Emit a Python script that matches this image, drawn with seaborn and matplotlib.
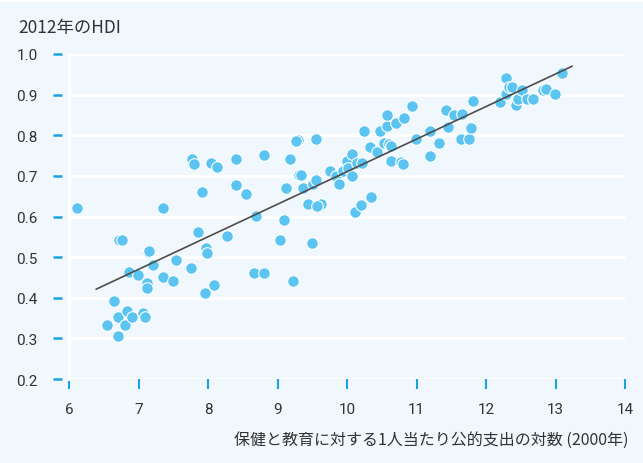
import numpy as np
import pandas as pd
import seaborn as sns
import matplotlib
matplotlib.use('Agg')
import matplotlib.pyplot as plt
import matplotlib.transforms as mtransforms

# log public spending per capita on health & education (2000) vs HDI 2012
spend_log = [6.12, 6.65, 6.70, 6.55, 6.71, 6.80, 6.83, 6.90, 6.72, 6.76,
             6.86, 6.99, 7.07, 7.10, 7.12, 7.12, 7.14, 7.15, 7.21, 7.35,
             7.35, 7.49, 7.54, 7.76, 7.85, 7.77, 7.80, 7.91, 7.97, 7.99,
             7.95, 8.08, 8.04, 8.13, 8.27, 8.41, 8.40, 8.54, 8.69, 8.66,
             8.80, 8.80, 9.03, 9.09, 9.12, 9.18, 9.23, 9.31, 9.34, 9.37,
             9.44, 9.50, 9.62, 9.57, 9.29, 9.26, 9.56, 9.51, 9.55, 9.75,
             9.84, 9.89, 9.94, 10.00, 10.02, 10.07, 10.07, 10.15, 10.21, 10.11,
             10.20, 10.34, 10.25, 10.33, 10.43, 10.48, 10.53, 10.60, 10.64, 10.58,
             10.57, 10.71, 10.82, 10.94, 10.64, 10.77, 10.80, 10.99, 11.20, 11.20,
             11.33, 11.42, 11.45, 11.54, 11.65, 11.64, 11.76, 11.77, 11.79, 11.81,
             12.20, 12.29, 12.29, 12.33, 12.38, 12.43, 12.46, 12.52, 12.59, 12.67,
             12.82, 12.86, 12.99, 13.09]
hdi_2012 = [0.622, 0.393, 0.353, 0.333, 0.307, 0.333, 0.367, 0.353, 0.541, 0.541,
            0.464, 0.456, 0.362, 0.353, 0.436, 0.423, 0.512, 0.516, 0.481, 0.621,
            0.451, 0.442, 0.492, 0.474, 0.562, 0.741, 0.730, 0.661, 0.522, 0.511,
            0.412, 0.432, 0.732, 0.721, 0.552, 0.741, 0.678, 0.655, 0.602, 0.462,
            0.461, 0.751, 0.542, 0.591, 0.671, 0.741, 0.442, 0.701, 0.701, 0.669,
            0.631, 0.535, 0.631, 0.627, 0.789, 0.787, 0.791, 0.681, 0.690, 0.712,
            0.700, 0.681, 0.712, 0.737, 0.719, 0.700, 0.753, 0.732, 0.732, 0.610,
            0.629, 0.649, 0.810, 0.771, 0.759, 0.810, 0.782, 0.778, 0.774, 0.823,
            0.851, 0.831, 0.843, 0.871, 0.737, 0.734, 0.730, 0.791, 0.810, 0.750,
            0.782, 0.861, 0.820, 0.851, 0.852, 0.790, 0.791, 0.820, 0.817, 0.884,
            0.881, 0.902, 0.941, 0.919, 0.919, 0.874, 0.889, 0.911, 0.890, 0.890,
            0.911, 0.914, 0.901, 0.954]

# trend line end points
trend_x = [6.39, 13.24]
trend_y = [0.421, 0.970]

x_ticks = [6, 7, 8, 9, 10, 11, 12, 13, 14]
y_ticks = [0.2, 0.3, 0.4, 0.5, 0.6, 0.7, 0.8, 0.9, 1.0]

bg = '#F0F7FD'
tick_blue = '#1AA3E3'
dot_blue = '#5BC4F1'

df = pd.DataFrame({'spend': spend_log, 'hdi': hdi_2012})

sns.set_theme(style='white')
plt.rcParams['font.family'] = ['Noto Sans CJK JP', 'DejaVu Sans']

fig = plt.figure(figsize=(6.43, 4.64), dpi=100, facecolor=bg)
fig.patches.append(plt.Rectangle((0, 0.995), 1, 0.005, transform=fig.transFigure,
                                 color='white', zorder=0))
ax = fig.add_axes([69 / 643, 1 - 380 / 464, (625 - 69) / 643, 325 / 464])
ax.set_facecolor(bg)

ax.set_xlim(6, 14)
ax.set_ylim(0.2, 1.0)
ax.set_yticks(y_ticks)
ax.set_xticks(x_ticks)
ax.grid(axis='y', color='white', linewidth=2.2, zorder=0)
ax.set_axisbelow(True)

sns.scatterplot(data=df, x='spend', y='hdi', ax=ax, s=70, color=dot_blue,
                edgecolor='white', linewidth=0.8, zorder=3)
sns.lineplot(x=trend_x, y=trend_y, ax=ax, color='#4D4D4D', linewidth=1.2, zorder=4)

for s in ['top', 'right', 'bottom']:
    ax.spines[s].set_visible(False)
ax.spines['left'].set_color('white')
ax.spines['left'].set_linewidth(2.2)

tick_font = ['Roboto', 'DejaVu Sans']
ax.set_yticklabels([f'{v:.1f}' for v in y_ticks], family=tick_font, fontsize=11, color='#333333')
ax.set_xticklabels([str(v) for v in x_ticks], family=tick_font, fontsize=11, color='#333333')
ax.tick_params(axis='y', left=True, direction='out', length=6.5, width=1.8,
               color=tick_blue, pad=11)
ax.tick_params(axis='x', bottom=True, direction='out', length=7.5, width=1.5,
               color=tick_blue, pad=9)

# shift y ticks outward so they float left of the plot
offset = mtransforms.ScaledTranslation(-7 / 100, 0, fig.dpi_scale_trans)
for t in ax.yaxis.get_major_ticks():
    t.tick1line.set_transform(t.tick1line.get_transform() + offset)
    t.label1.set_transform(t.label1.get_transform() + offset)

ax.set_xlabel('')
ax.set_ylabel('')
fig.text(18 / 643, 1 - 28 / 464, '2012年のHDI', fontsize=12.5, color='#333333',
         va='center', ha='left')
fig.text(628 / 643, 1 - 440 / 464, '保健と教育に対する1人当たり公的支出の対数 (2000年)',
         fontsize=11.5, color='#333333', va='center', ha='right')

fig.savefig('out.png', dpi=100, facecolor=bg)
